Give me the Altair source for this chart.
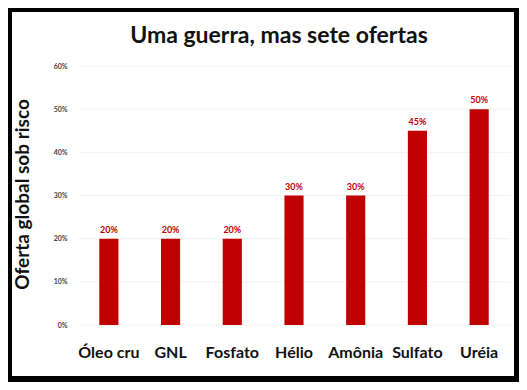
import altair as alt
import pandas as pd

categories = ["Óleo cru", "GNL", "Fosfato", "Hélio", "Amônia", "Sulfato", "Uréia"]
values = [0.20, 0.20, 0.20, 0.30, 0.30, 0.45, 0.50]
tick_values = [0, 0.1, 0.2, 0.3, 0.4, 0.5, 0.6]

df = pd.DataFrame({"cat": categories, "val": values})
grid_df = pd.DataFrame({"val": tick_values})

W, H = 432, 259
PL, PT, PR, PB = 70, 58, 9, 57

yscale = alt.Scale(domain=[0, 0.6], nice=False)

xenc = alt.X(
    "cat:N", sort=categories, title=None,
    scale=alt.Scale(paddingInner=0.69, paddingOuter=0.345),
    axis=alt.Axis(labelAngle=0, domain=False, ticks=False, labelFont="Lato",
                  labelFontWeight="bold", labelFontSize=16, labelColor="#111111",
                  labelBaseline="alphabetic", labelPadding=32, zindex=1),
)
yenc = alt.Y(
    "val:Q", title="Oferta global sob risco", scale=yscale,
    axis=alt.Axis(values=tick_values, format=".0%", domain=False, ticks=False,
                  labelFont="Lato", labelFontSize=7, labelFontWeight="bold",
                  labelColor="#444444", labelPadding=11, grid=False,
                  titleFont="Lato", titleFontSize=19, titleFontWeight="bold",
                  titleColor="#111111", titleAngle=-90, titleX=-50, titleY=128,
                  titleBaseline="alphabetic", zindex=1),
)

panel = alt.Chart(alt.Data(values=[{"a": 1}])).mark_rect(color="white").encode(
    x=alt.value(-PL + 4), x2=alt.value(W + PR - 5),
    y=alt.value(-PT + 4), y2=alt.value(H + PB - 6),
)

grid = alt.Chart(grid_df).mark_rule(color="#f2f2f2", strokeWidth=1).encode(
    y=alt.Y("val:Q", scale=yscale)
)

bars = alt.Chart(df).mark_bar(color="#C00000").encode(x=xenc, y=yenc)
labels = alt.Chart(df).mark_text(
    color="#C00000", font="Lato", fontWeight="bold", fontSize=9,
    baseline="alphabetic", dy=-6,
).encode(x=alt.X("cat:N", sort=categories), y="val:Q", text=alt.Text("val:Q", format=".0%"))

chart = alt.layer(panel, grid, bars, labels).properties(
    width=W, height=H,
    autosize=alt.AutoSizeParams(type="none"),
    padding={"left": PL, "top": PT, "right": PR, "bottom": PB},
    background="black",
    title=alt.TitleParams(
        "Uma guerra, mas sete ofertas", font="Lato", fontSize=23, fontWeight="bold",
        color="#111111", anchor="middle", frame="group", baseline="alphabetic",
        offset=23, dy=77, dx=-15, zindex=1,
    ),
).configure_view(stroke=None)

chart.save("out.html", embed_options={"renderer": "svg", "actions": False})
